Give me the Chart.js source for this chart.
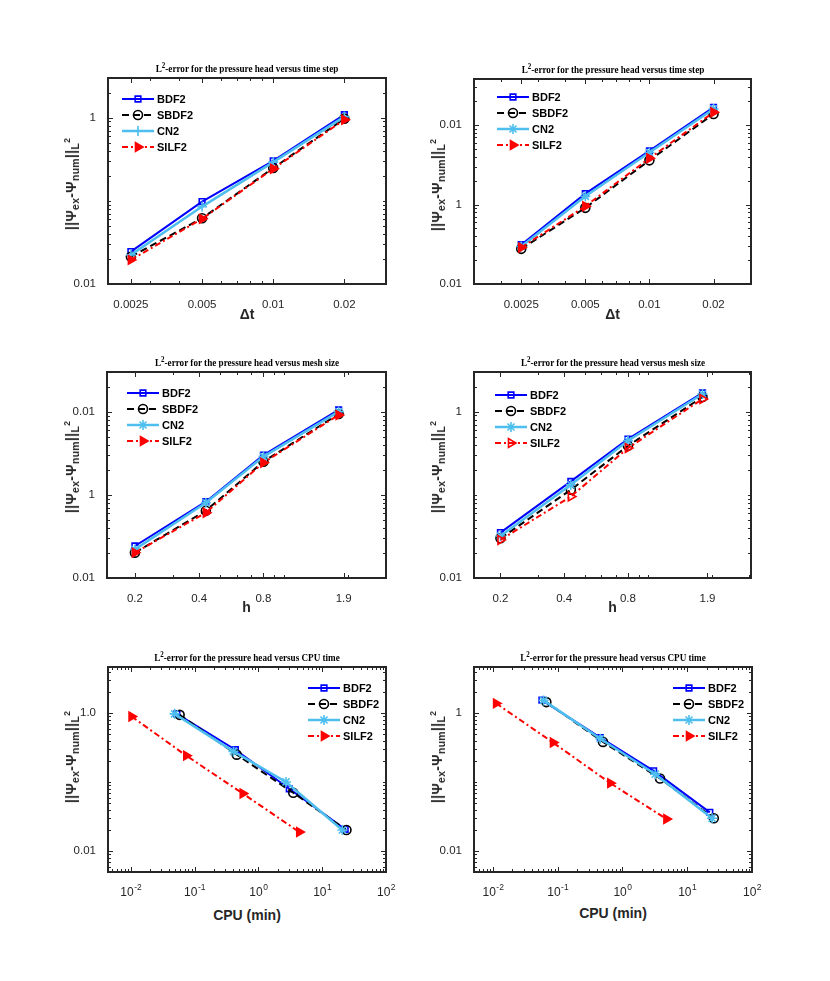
<!DOCTYPE html>
<html>
<head>
<meta charset="utf-8">
<script src="https://cdn.jsdelivr.net/npm/chart.js@4.4.1/dist/chart.umd.min.js"></script>
<style>
  body { margin: 0; background: #fff; }
  #page { position: relative; width: 830px; height: 981px; overflow: hidden; background: #fff; }
  canvas { position: absolute; }
  .ttl { position: absolute; transform: translate(-50%, -50%) scaleX(0.87); white-space: nowrap;
         font: bold 10.5px 'Liberation Serif', 'Times New Roman', serif; color: #000; }
  .ttl sup { font-size: 8px; vertical-align: 4px; line-height: 0; }
  .xlab { position: absolute; transform: translate(-50%, -50%); white-space: nowrap;
          font: bold 14px 'Liberation Sans', Arial, sans-serif; color: #262626; }
  .ylab { position: absolute; transform: translate(-50%, -50%) rotate(-90deg); white-space: nowrap;
          font: bold 14px 'Liberation Sans', Arial, sans-serif; color: #262626; letter-spacing: 0.3px; }
  .ylab sub { font-size: 10.5px; vertical-align: -3px; line-height: 0; }
  .ylab sub sup { font-size: 8.5px; vertical-align: 9px; }
</style>
</head>
<body>
<div id="page"></div>
<script>
// --- DATA ---
const methodNames = ['BDF2', 'SBDF2', 'CN2', 'SILF2'];

const dtSteps = [0.0025, 0.005, 0.01, 0.02];
const dtTickLabels = ['0.0025', '0.005', '0.01', '0.02'];

const meshSizes = [0.2, 0.43, 0.8, 1.8];
const meshTicks = [0.2, 0.4, 0.8, 1.9];
const meshTickLabels = ['0.2', '0.4', '0.8', '1.9'];

// CPU axis ticks are printed as 10 with a raised exponent
const cpuTicks = [0.01, 0.1, 1, 10, 100];
const cpuTickExps = ['-2', '-1', '0', '1', '2'];

// y tick values and the labels printed on them (as in the figure)
const yTicksTwo = [0.01, 1];
const yTicksThree = [0.01, 0.1, 1];
const yLabelsTwo = ['0.01', '1'];
const yLabelsThree = ['0.01', '1', '0.01'];
const yLabelsCpuLeft = ['0.01', '1.0'];

// rows follow methodNames
const errDtLeft = [
  [0.0245, 0.098, 0.303, 1.087],
  [0.0213, 0.0618, 0.248, 0.973],
  [0.0224, 0.0853, 0.292, 1.03],
  [0.0195, 0.0607, 0.243, 0.946]
];
const errDtRight = [
  [0.0312, 0.137, 0.473, 1.675],
  [0.0277, 0.0908, 0.36, 1.377],
  [0.0297, 0.127, 0.451, 1.595],
  [0.0288, 0.0953, 0.382, 1.447]
];
const errHLeft = [
  [0.0243, 0.083, 0.303, 1.057],
  [0.0202, 0.0647, 0.252, 0.946],
  [0.0221, 0.0807, 0.29, 1.009],
  [0.0202, 0.0612, 0.245, 0.92]
];
const errHRight = [
  [0.0351, 0.145, 0.469, 1.68],
  [0.030, 0.115, 0.389, 1.50],
  [0.032, 0.132, 0.447, 1.63],
  [0.0287, 0.0954, 0.365, 1.42]
];
const cpuLeft = [
  [0.0528, 0.436, 3.05, 22.9],
  [0.0583, 0.458, 3.52, 24],
  [0.0487, 0.406, 2.71, 20.7],
  [0.0103, 0.0742, 0.569, 4.37]
];
const errCpuLeft = [
  [0.98, 0.296, 0.0804, 0.0208],
  [0.948, 0.251, 0.0703, 0.0203],
  [0.98, 0.28, 0.101, 0.0203],
  [0.896, 0.243, 0.0687, 0.019]
];
const cpuRight = [
  [0.0571, 0.455, 3.03, 22.3],
  [0.0667, 0.501, 3.8, 25.7],
  [0.0605, 0.455, 3.21, 24.2],
  [0.0112, 0.0846, 0.65, 4.77]
];
const errCpuRight = [
  [1.55, 0.444, 0.146, 0.0366],
  [1.45, 0.384, 0.1135, 0.030],
  [1.535, 0.428, 0.131, 0.030],
  [1.39, 0.376, 0.097, 0.0293]
];

// --- STYLES ---
const methodStyles = [
  { color: '#0000FF', width: 2,   dash: [],           point: 'rect',     radius: 4,   rotation: 0,  fill: false },
  { color: '#000000', width: 2,   dash: [7, 4],       point: 'circle',   radius: 4.5, rotation: 0,  fill: false },
  { color: '#4DBEEE', width: 2.5, dash: [],           point: 'star',     radius: 5,   rotation: 0,  fill: true },
  { color: '#FF0000', width: 2,   dash: [6, 3, 2, 3], point: 'triangle', radius: 5,   rotation: 90, fill: true }
];

Chart.defaults.font.family = "'Liberation Sans', Arial, sans-serif";
Chart.defaults.font.size = 11.5;
Chart.defaults.color = '#262626';

const titleDt = 'L<sup>2</sup>-error for the pressure head versus time step';
const titleH = 'L<sup>2</sup>-error for the pressure head versus mesh size';
const titleCpu = 'L<sup>2</sup>-error for the pressure head versus CPU time';
const yTitle = '||&Psi;<sub>ex</sub>-&Psi;<sub>num</sub>||<sub>L<sup>2</sup></sub>';

// --- PANELS ---
const panels = [
  { left: 108, top: 78, w: 278, h: 206, xs: [dtSteps, dtSteps, dtSteps, dtSteps], ys: errDtLeft,
    xMin: 0.002, xMax: 0.03, xTicks: dtSteps, xLabels: dtTickLabels,
    yMin: 0.01, yMax: 3, yTicks: yTicksTwo, yLabels: yLabelsTwo,
    title: titleDt, xTitle: '\u0394t', titleY: 68, xTitleY: 314, yTitleX: 71, yTitleY: 184,
    legend: { dx: 14, dy: 21 }, override: { 2: { point: 'cross', radius: 5 } } },
  { left: 474, top: 79, w: 277, h: 205, xs: [dtSteps, dtSteps, dtSteps, dtSteps], ys: errDtRight,
    xMin: 0.0015, xMax: 0.03, xTicks: dtSteps, xLabels: dtTickLabels,
    yMin: 0.01, yMax: 3.8, yTicks: yTicksThree, yLabels: yLabelsThree,
    title: titleDt, xTitle: '\u0394t', titleY: 69, xTitleY: 314, yTitleX: 437, yTitleY: 185,
    legend: { dx: 23, dy: 18 }, override: {} },
  { left: 107, top: 372, w: 279, h: 206, xs: [meshSizes, meshSizes, meshSizes, meshSizes], ys: errHLeft,
    xMin: 0.148, xMax: 3.0, xTicks: meshTicks, xLabels: meshTickLabels,
    yMin: 0.01, yMax: 3.03, yTicks: yTicksThree, yLabels: yLabelsThree,
    title: titleH, xTitle: 'h', titleY: 362, xTitleY: 607, yTitleX: 71, yTitleY: 467,
    legend: { dx: 20, dy: 21 }, override: {} },
  { left: 474, top: 372, w: 277, h: 206, xs: [meshSizes, meshSizes, meshSizes, meshSizes], ys: errHRight,
    xMin: 0.15, xMax: 3.05, xTicks: meshTicks, xLabels: meshTickLabels,
    yMin: 0.01, yMax: 3, yTicks: yTicksTwo, yLabels: yLabelsTwo,
    title: titleH, xTitle: 'h', titleY: 362, xTitleY: 607, yTitleX: 437, yTitleY: 467,
    legend: { dx: 21, dy: 23 }, override: { 3: { fill: false } } },
  { left: 108, top: 667, w: 278, h: 205, xs: cpuLeft, ys: errCpuLeft,
    xMin: 0.0044, xMax: 100, xTicks: cpuTicks, xExps: cpuTickExps,
    yMin: 0.005, yMax: 4.68, yTicks: yTicksTwo, yLabels: yLabelsCpuLeft,
    title: titleCpu, xTitle: 'CPU (min)', titleY: 657, xTitleY: 915, yTitleX: 71, yTitleY: 757,
    legend: { dx: 200, dy: 21 }, override: {} },
  { left: 474, top: 667, w: 278, h: 205, xs: cpuRight, ys: errCpuRight,
    xMin: 0.0051, xMax: 100, xTicks: cpuTicks, xExps: cpuTickExps,
    yMin: 0.005, yMax: 4.68, yTicks: yTicksTwo, yLabels: yLabelsTwo,
    title: titleCpu, xTitle: 'CPU (min)', titleY: 657, xTitleY: 913, yTitleX: 437, yTitleY: 757,
    legend: { dx: 199, dy: 21 }, override: {} }
];

// --- PLUGINS ---
function logMinorTicks(min, max) {
  const out = [];
  for (let d = Math.floor(Math.log10(min)); d <= Math.ceil(Math.log10(max)); d++) {
    for (let m = 1; m < 10; m++) {
      const v = m * Math.pow(10, d);
      if (v >= min * 1.0001 && v <= max * 0.9999) out.push(v);
    }
  }
  return out;
}
const isIn = (list, v) => list.some(t => Math.abs(t / v - 1) < 1e-6);
const tickIndex = (list, v) => list.findIndex(t => Math.abs(t / v - 1) < 1e-6);

// MATLAB style box with inward ticks on all four sides, power-of-ten labels, legend
const boxPlugin = {
  id: 'matlabBox',
  afterDraw(chart, args, opts) {
    const { ctx, chartArea: a, scales } = chart;
    ctx.save();
    ctx.strokeStyle = '#262626';
    ctx.lineWidth = 1;
    const xs = scales.x, ys = scales.y;
    const marks = (scale, majors) => logMinorTicks(scale.min, scale.max)
      .filter(v => !isIn(majors, v)).map(v => [v, 3]).concat(majors.map(v => [v, 5]));
    marks(xs, opts.xTicks).forEach(([v, len]) => {
      const p = Math.round(xs.getPixelForValue(v)) + 0.5;
      ctx.beginPath();
      ctx.moveTo(p, a.bottom); ctx.lineTo(p, a.bottom - len);
      ctx.moveTo(p, a.top); ctx.lineTo(p, a.top + len);
      ctx.stroke();
    });
    marks(ys, opts.yTicks).forEach(([v, len]) => {
      const p = Math.round(ys.getPixelForValue(v)) + 0.5;
      ctx.beginPath();
      ctx.moveTo(a.left, p); ctx.lineTo(a.left + len, p);
      ctx.moveTo(a.right, p); ctx.lineTo(a.right - len, p);
      ctx.stroke();
    });
    ctx.lineWidth = 2;
    ctx.strokeRect(a.left, a.top, a.right - a.left, a.bottom - a.top);

    // 10^n tick labels
    if (opts.xExps) {
      ctx.fillStyle = '#262626';
      ctx.textBaseline = 'alphabetic';
      ctx.textAlign = 'left';
      opts.xTicks.forEach((v, i) => {
        const base = "12px 'Liberation Sans', Arial, sans-serif";
        const sup = "8.5px 'Liberation Sans', Arial, sans-serif";
        ctx.font = base; const wb = ctx.measureText('10').width;
        ctx.font = sup; const we = ctx.measureText(opts.xExps[i]).width;
        const x0 = xs.getPixelForValue(v) - (wb + we) / 2;
        const yb = a.bottom + 24;
        ctx.font = base; ctx.fillText('10', x0, yb);
        ctx.font = sup; ctx.fillText(opts.xExps[i], x0 + wb + 0.5, yb - 6);
      });
    }

    // legend inside the axes, no box
    ctx.font = "bold 11px 'Liberation Sans', Arial, sans-serif";
    ctx.textBaseline = 'middle';
    ctx.textAlign = 'left';
    chart.data.datasets.forEach((ds, i) => {
      const y = a.top + opts.legend.dy + i * 16;
      const x0 = a.left + opts.legend.dx, x1 = x0 + 32;
      ctx.save();
      ctx.strokeStyle = ds.borderColor;
      ctx.lineWidth = ds.borderWidth;
      ctx.setLineDash(ds.borderDash);
      ctx.beginPath(); ctx.moveTo(x0, y); ctx.lineTo(x1, y); ctx.stroke();
      ctx.setLineDash([]);
      ctx.strokeStyle = ds.pointBorderColor;
      ctx.fillStyle = ds.pointBackgroundColor;
      ctx.lineWidth = ds.pointBorderWidth;
      Chart.helpers.drawPoint(ctx, { pointStyle: ds.pointStyle, radius: ds.pointRadius,
        rotation: ds.pointRotation, borderWidth: ds.pointBorderWidth }, (x0 + x1) / 2, y);
      ctx.restore();
      ctx.fillStyle = '#000';
      ctx.fillText(ds.label, x1 + 3, y + 0.5);
    });
    ctx.restore();
  }
};

// --- BUILD ---
const page = document.getElementById('page');
const Y_W = 60, X_H = 32, PAD_T = 14, PAD_R = 16;

function addText(cls, html, x, y) {
  const d = document.createElement('div');
  d.className = cls;
  d.innerHTML = html;
  d.style.left = x + 'px';
  d.style.top = y + 'px';
  page.appendChild(d);
}

panels.forEach(p => {
  const canvas = document.createElement('canvas');
  const cw = p.w + Y_W + PAD_R, ch = p.h + PAD_T + X_H;
  canvas.width = cw; canvas.height = ch;
  canvas.style.width = cw + 'px'; canvas.style.height = ch + 'px';
  canvas.style.left = (p.left - Y_W) + 'px';
  canvas.style.top = (p.top - PAD_T) + 'px';
  page.appendChild(canvas);

  const datasets = methodNames.map((name, i) => {
    const s = Object.assign({}, methodStyles[i], p.override[i] || {});
    return {
      label: name,
      data: p.xs[i].map((x, k) => ({ x: x, y: p.ys[i][k] })),
      borderColor: s.color,
      borderWidth: s.width,
      borderDash: s.dash,
      pointStyle: s.point,
      pointRadius: s.radius,
      pointRotation: s.rotation,
      pointBorderColor: s.color,
      pointBackgroundColor: s.fill ? s.color : 'rgba(255,255,255,0)',
      pointBorderWidth: 1.6,
      tension: 0,
      fill: false,
      order: 3 - i
    };
  });

  const chart = new Chart(canvas, {
    type: 'line',
    data: { datasets },
    options: {
      responsive: false, animation: false, devicePixelRatio: 1,
      layout: { padding: { left: 0, top: PAD_T, right: PAD_R, bottom: 0 } },
      plugins: { legend: { display: false }, tooltip: { enabled: false },
                 matlabBox: { xTicks: p.xTicks, xExps: p.xExps, yTicks: p.yTicks, legend: p.legend } },
      scales: {
        x: {
          type: 'logarithmic', min: p.xMin, max: p.xMax,
          grid: { display: false }, border: { display: false },
          afterBuildTicks: sc => { sc.ticks = p.xTicks.map(v => ({ value: v })); },
          afterFit: sc => { sc.height = X_H; },
          ticks: { autoSkip: false, maxRotation: 0, padding: 6,
                   callback: v => p.xLabels ? p.xLabels[tickIndex(p.xTicks, v)] : '' }
        },
        y: {
          type: 'logarithmic', min: p.yMin, max: p.yMax,
          grid: { display: false }, border: { display: false },
          afterBuildTicks: sc => { sc.ticks = p.yTicks.map(v => ({ value: v })); },
          afterFit: sc => { sc.width = Y_W; },
          ticks: { autoSkip: false, padding: 4,
                   callback: v => p.yLabels[tickIndex(p.yTicks, v)] }
        }
      }
    },
    plugins: [boxPlugin]
  });

  // line the plot area up with its place in the figure
  let ca = chart.chartArea;
  const dw = p.w - (ca.right - ca.left), dh = p.h - (ca.bottom - ca.top);
  if (Math.abs(dw) > 0.5 || Math.abs(dh) > 0.5) {
    chart.resize(cw + dw, ch + dh);
    ca = chart.chartArea;
  }
  canvas.style.left = (p.left - ca.left) + 'px';
  canvas.style.top = (p.top - ca.top) + 'px';

  const cx = p.left + p.w / 2;
  addText('ttl', p.title, cx, p.titleY);
  addText('xlab', p.xTitle, cx, p.xTitleY);
  addText('ylab', yTitle, p.yTitleX, p.yTitleY);
});
</script>
</body>
</html>
